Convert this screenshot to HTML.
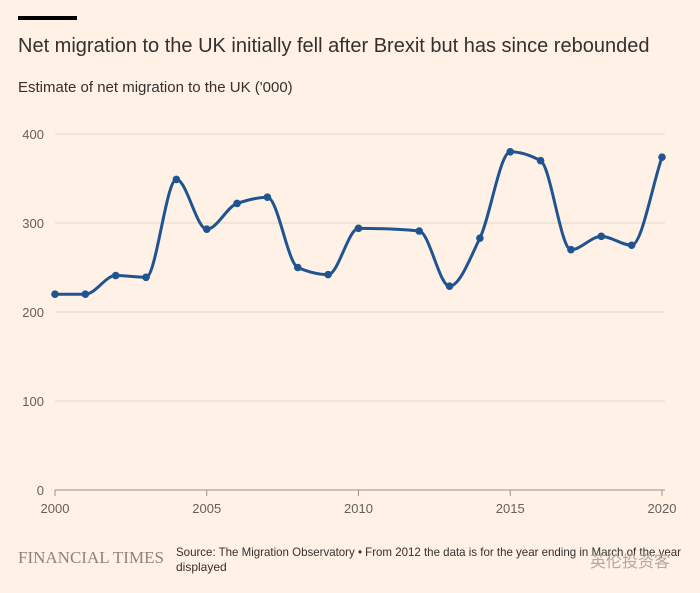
<!DOCTYPE html>
<html><head><meta charset="utf-8"><style>
body{margin:0;background:#fff1e5;width:700px;height:593px;overflow:hidden;font-family:"Liberation Sans",sans-serif;color:#33302e}
</style></head><body>
<svg width="700" height="593" style="position:absolute;left:0;top:0">
<rect x="0" y="0" width="700" height="593" fill="#fff1e5"/>
<rect x="18" y="16" width="59" height="4" fill="#000"/>
<text x="18" y="52" font-size="20" fill="#33302e">Net migration to the UK initially fell after Brexit but has since rebounded</text>
<text x="18" y="92" font-size="15" fill="#33302e">Estimate of net migration to the UK ('000)</text>
<g id="grid"></g><g id="xaxis"></g><g id="series"></g>
<text x="18" y="563" font-family="Liberation Serif,serif" font-size="17" fill="#8c8480">FINANCIAL TIMES</text>
<text x="176" y="556" font-size="12" fill="#33302e" textLength="505" lengthAdjust="spacingAndGlyphs">Source: The Migration Observatory • From 2012 the data is for the year ending in March of the year</text>
<text x="176" y="571" font-size="12" fill="#33302e">displayed</text>
<text x="590" y="567" font-family="Liberation Sans,Noto Sans CJK SC,sans-serif" font-size="16" fill="#b0a8a2">英伦投资客</text>
</svg>
<script>
const years=[2000,2001,2002,2003,2004,2005,2006,2007,2008,2009,2010,2012,2013,2014,2015,2016,2017,2018,2019,2020];
const values=[220,220,241,239,349,293,322,329,250,242,294,291,229,283,380,370,270,285,275,374];
const yTicks=[0,100,200,300,400];
const xTicks=[2000,2005,2010,2015,2020];
const NS="http://www.w3.org/2000/svg";
const x=v=>55+(v-2000)*(662-55)/20;
const y=v=>490-v*(490-134)/400;
function mk(t,a,p){const e=document.createElementNS(NS,t);for(const k in a)e.setAttribute(k,a[k]);p.appendChild(e);return e;}
const grid=document.getElementById('grid');
yTicks.forEach(t=>{
 if(t>0){const l=mk('line',{x1:55,x2:665,y1:y(t),y2:y(t),stroke:'#e3d6cb','stroke-width':1},grid);
 
 }
 const tx=mk('text',{x:44,y:y(t)+5,'text-anchor':'end','font-size':13,fill:'#66605c'},grid);tx.textContent=t;
 
 
});
const xa=document.getElementById('xaxis');
const base=mk('line',{x1:55,x2:665,y1:490,y2:490,stroke:'#9a918b','stroke-width':1},xa);


xTicks.forEach(t=>{
 const tk=mk('line',{x1:x(t),x2:x(t),y1:490,y2:496,stroke:'#9a918b'},xa);
 
 
 const tx=mk('text',{x:x(t),y:513,'text-anchor':'middle','font-size':13,fill:'#66605c'},xa);tx.textContent=t;
 
 
});
const P=years.map((yr,i)=>[x(yr),y(values[i])]);
const n=P.length,m=[],d=[];
for(let i=0;i<n-1;i++)d.push((P[i+1][1]-P[i][1])/(P[i+1][0]-P[i][0]));
for(let i=0;i<n;i++){
 if(i===0)m.push(d[0]);else if(i===n-1)m.push(d[n-2]);
 else{const a=d[i-1],b=d[i];if(a*b<=0)m.push(0);else{const h0=P[i][0]-P[i-1][0],h1=P[i+1][0]-P[i][0];m.push(3*(h0+h1)/((2*h1+h0)/a+(h1+2*h0)/b));}}
}
let path='M'+P[0][0]+','+P[0][1];
for(let i=0;i<n-1;i++){const h=(P[i+1][0]-P[i][0])/3;
 path+=' C'+(P[i][0]+h)+','+(P[i][1]+m[i]*h)+' '+(P[i+1][0]-h)+','+(P[i+1][1]-m[i+1]*h)+' '+P[i+1][0]+','+P[i+1][1];}
const s=document.getElementById('series');
const ln=mk('path',{d:path,fill:'none',stroke:'#1f5491','stroke-width':3},s);


P.forEach((p,i)=>{const c=mk('circle',{cx:p[0],cy:p[1],r:3.8,fill:'#1f5491'},s);
 
 });
</script>
</body></html>
